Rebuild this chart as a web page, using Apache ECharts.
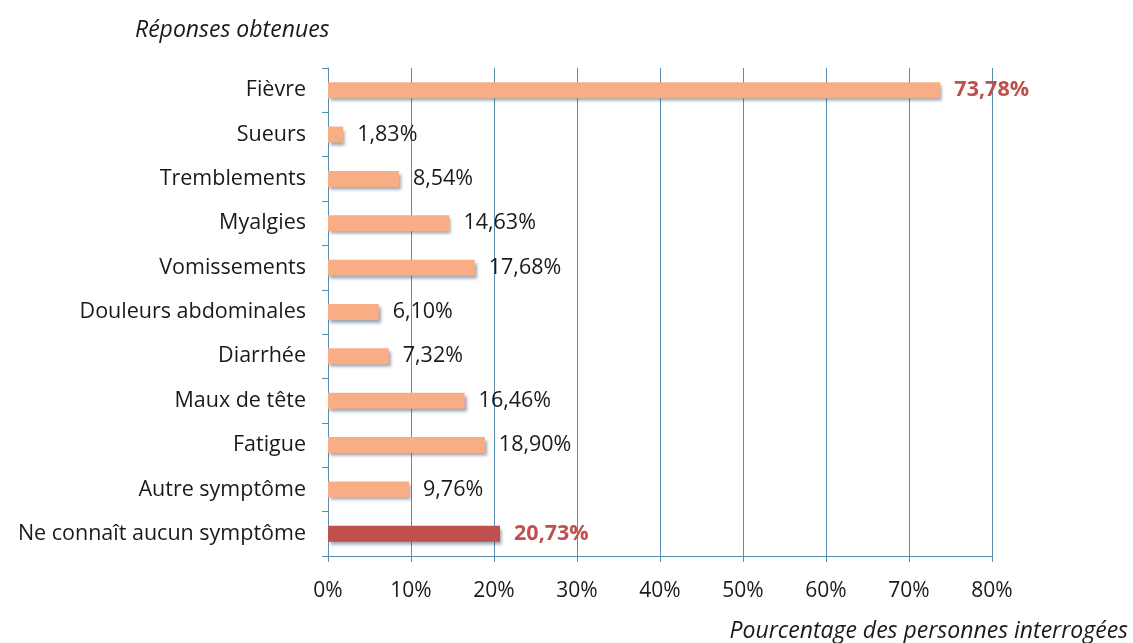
<!DOCTYPE html>
<html>
<head>
<meta charset="utf-8">
<script src="https://cdn.jsdelivr.net/npm/echarts@6/dist/echarts.min.js"></script>
<style>
html, body { margin: 0; padding: 0; background: #fff; }
#chart { width: 1133px; height: 643px; }
</style>
</head>
<body>
<div id="chart"></div>
<script>
const categories = ['Fièvre', 'Sueurs', 'Tremblements', 'Myalgies', 'Vomissements', 'Douleurs abdominales',
    'Diarrhée', 'Maux de tête', 'Fatigue', 'Autre symptôme', 'Ne connaît aucun symptôme'];
const values = [73.78, 1.83, 8.54, 14.63, 17.68, 6.10, 7.32, 16.46, 18.90, 9.76, 20.73];
const highlighted = [true, false, false, false, false, false, false, false, false, false, false];
const noneIndex = 10;
const xTicks = [0, 10, 20, 30, 40, 50, 60, 70, 80];

const FONT = '"Open Sans", "Liberation Sans", sans-serif';
const chart = echarts.init(document.getElementById('chart'));

const formatPct = (v) => v.toFixed(2).replace('.', ',') + '%';

const barData = values.map((v, i) => ({
    value: v,
    itemStyle: { color: i === noneIndex ? '#c0504d' : '#f9ad85' },
    label: (highlighted[i] || i === noneIndex)
        ? { color: '#c0504d', fontWeight: 'bold' }
        : { color: '#1a1a1a', fontWeight: 'normal' }
}));

const option = {
    animation: false,
    grid: { left: 328, right: 141, top: 68, bottom: 87 },
    xAxis: {
        type: 'value',
        min: 0,
        max: 80,
        interval: 10,
        axisLine: { show: true, lineStyle: { color: '#5b8db0', width: 1 } },
        axisTick: { show: true, length: 6, lineStyle: { color: '#5b8db0' } },
        splitLine: { show: true, lineStyle: { color: '#5b8db0', width: 1 } },
        axisLabel: {
            margin: 25,
            color: '#1a1a1a',
            fontFamily: FONT,
            fontSize: 21,
            formatter: (v) => xTicks.includes(v) ? v + '%' : ''
        },
        name: 'Pourcentage des personnes interrogées',
        nameLocation: 'end',
        nameGap: 0,
        nameTextStyle: {
            fontFamily: FONT,
            fontStyle: 'italic',
            fontSize: 23,
            color: '#1a1a1a',
            align: 'right',
            verticalAlign: 'top',
            padding: [64, -136, 0, 0]
        }
    },
    yAxis: {
        type: 'category',
        data: categories,
        inverse: true,
        axisLine: { show: true, lineStyle: { color: '#5b8db0', width: 1 } },
        axisTick: { show: true, length: 6, lineStyle: { color: '#5b8db0' } },
        axisLabel: {
            margin: 22,
            color: '#1a1a1a',
            fontFamily: FONT,
            fontSize: 21.5
        },
        name: 'Réponses obtenues',
        nameLocation: 'start',
        nameGap: 0,
        nameTextStyle: {
            fontFamily: FONT,
            fontStyle: 'italic',
            fontSize: 23,
            color: '#1a1a1a',
            align: 'left',
            verticalAlign: 'bottom',
            padding: [0, 0, 26, -193]
        }
    },
    series: [{
        type: 'bar',
        data: barData,
        barWidth: 16,
        itemStyle: {
            shadowColor: 'rgba(40, 60, 80, 0.45)',
            shadowBlur: 3,
            shadowOffsetX: 2,
            shadowOffsetY: 3
        },
        label: {
            show: true,
            position: 'right',
            distance: 14,
            fontFamily: FONT,
            fontSize: 21.5,
            formatter: (p) => formatPct(p.value)
        }
    }]
};

chart.setOption(option);
</script>
</body>
</html>
